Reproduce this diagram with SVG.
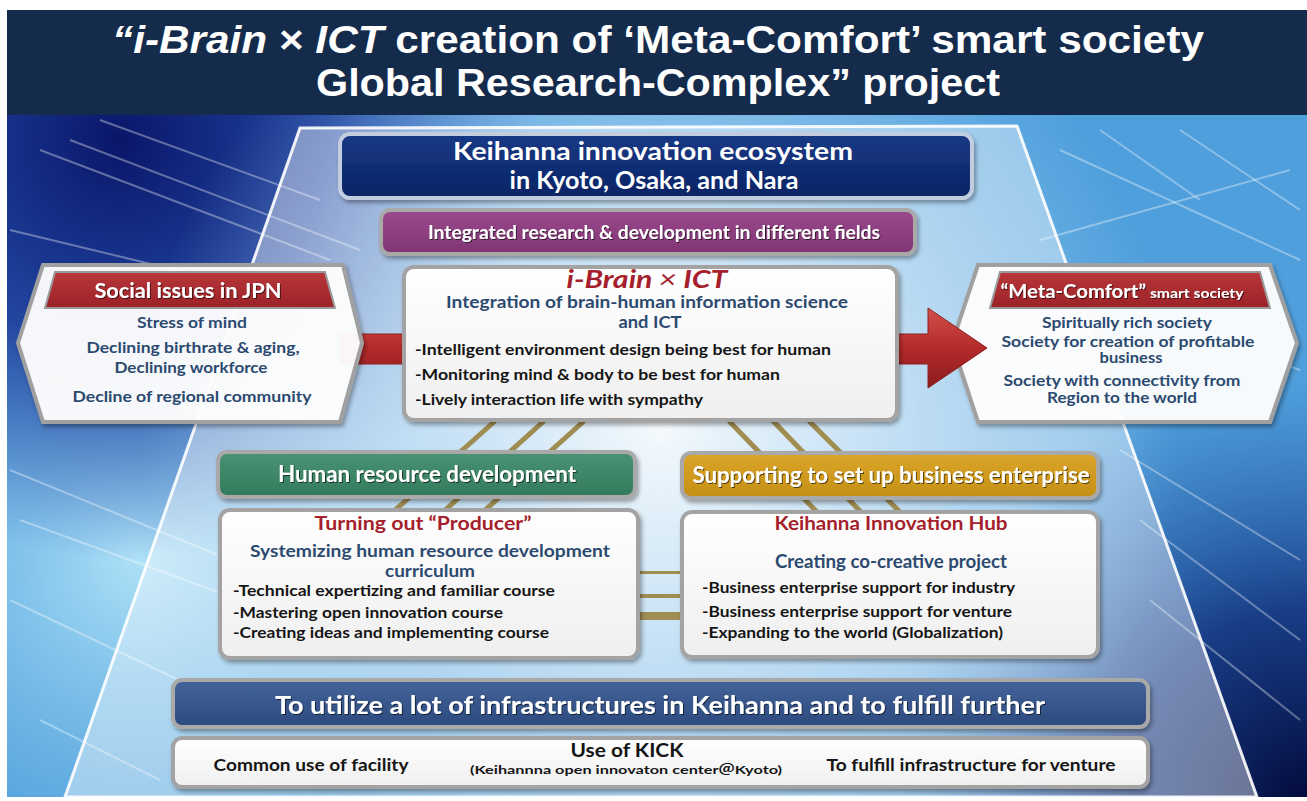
<svg xmlns="http://www.w3.org/2000/svg" width="1307" height="801" viewBox="0 0 1307 801">
<defs>
<style>
.t{font-family:Lato,"Liberation Sans","Noto Sans CJK JP",sans-serif;font-weight:700}
.ttl{font-family:"Liberation Sans",Arial,sans-serif;font-weight:700;fill:#fff}
.m{text-anchor:middle}
.w{fill:#fff}
.sl{fill:#2c4a70}
.rd{fill:#a51f2c}
.bk{fill:#151515}
.wbox{fill:url(#gWhite);stroke:#a3a3a3;stroke-width:4}
.gold{stroke:#a08d52;stroke-width:5;fill:none}
.bgl{stroke:#ffffff;fill:none}
</style>
<radialGradient id="gDarkTL" cx="120" cy="140" r="420" gradientUnits="userSpaceOnUse">
<stop offset="0" stop-color="#0a1668" stop-opacity="1"/>
<stop offset="0.5" stop-color="#10268a" stop-opacity="0.75"/>
<stop offset="1" stop-color="#1a3aa0" stop-opacity="0"/>
</radialGradient>
<radialGradient id="gCyanL" cx="140" cy="560" r="330" gradientUnits="userSpaceOnUse">
<stop offset="0" stop-color="#b4e4f8" stop-opacity="0.95"/>
<stop offset="1" stop-color="#8ccdf0" stop-opacity="0"/>
</radialGradient>
<radialGradient id="gDarkBR" cx="1307" cy="800" r="420" gradientUnits="userSpaceOnUse">
<stop offset="0" stop-color="#030a3a" stop-opacity="1"/>
<stop offset="0.45" stop-color="#0a2470" stop-opacity="0.8"/>
<stop offset="1" stop-color="#1a4a9a" stop-opacity="0"/>
</radialGradient>
<radialGradient id="gGlow" cx="660" cy="430" r="520" gradientUnits="userSpaceOnUse">
<stop offset="0" stop-color="#ffffff" stop-opacity="0.9"/>
<stop offset="0.45" stop-color="#e6f4ff" stop-opacity="0.5"/>
<stop offset="1" stop-color="#bfe3ff" stop-opacity="0"/>
</radialGradient>
<linearGradient id="gWhite" x1="0" y1="0" x2="0" y2="1">
<stop offset="0" stop-color="#ffffff"/>
<stop offset="1" stop-color="#efefef"/>
</linearGradient>
<linearGradient id="gNavy" x1="0" y1="0" x2="0" y2="1">
<stop offset="0" stop-color="#173a86"/>
<stop offset="1" stop-color="#0b2466"/>
</linearGradient>
<linearGradient id="gPurple" x1="0" y1="0" x2="0" y2="1">
<stop offset="0" stop-color="#9a4a8c"/>
<stop offset="1" stop-color="#803574"/>
</linearGradient>
<linearGradient id="gGreen" x1="0" y1="0" x2="0" y2="1">
<stop offset="0" stop-color="#4a9374"/>
<stop offset="1" stop-color="#337a5c"/>
</linearGradient>
<linearGradient id="gGold" x1="0" y1="0" x2="0" y2="1">
<stop offset="0" stop-color="#dba62a"/>
<stop offset="1" stop-color="#c48f14"/>
</linearGradient>
<linearGradient id="gSteel" x1="0" y1="0" x2="0" y2="1">
<stop offset="0" stop-color="#44649a"/>
<stop offset="1" stop-color="#2c4a7e"/>
</linearGradient>
<linearGradient id="gRed" x1="0" y1="0" x2="0" y2="1">
<stop offset="0" stop-color="#b8373a"/>
<stop offset="1" stop-color="#9b2228"/>
</linearGradient>
<linearGradient id="gArrow" x1="0" y1="0" x2="0" y2="1">
<stop offset="0" stop-color="#d2524a"/>
<stop offset="0.5" stop-color="#b42a2a"/>
<stop offset="1" stop-color="#8a1c1e"/>
</linearGradient>
<filter id="sh" x="-5%" y="-10%" width="110%" height="130%">
<feDropShadow dx="2" dy="3" stdDeviation="2" flood-color="#000" flood-opacity="0.35"/>
</filter>
<filter id="tsh" x="-5%" y="-20%" width="110%" height="150%">
<feDropShadow dx="1" dy="1" stdDeviation="0.6" flood-color="#000" flood-opacity="0.6"/>
</filter>
</defs>

<rect x="0" y="0" width="1307" height="801" fill="#ffffff"/>

<g id="background">
<rect x="7" y="115" width="1300" height="682" fill="#4f9fdc"/>
<rect x="7" y="115" width="1300" height="682" fill="url(#gCyanL)"/>
<rect x="7" y="115" width="1300" height="682" fill="url(#gDarkTL)"/>
<rect x="7" y="115" width="1300" height="682" fill="url(#gDarkBR)"/>
<rect x="7" y="115" width="1300" height="682" fill="url(#gGlow)"/>
<g class="bgl" stroke-opacity="0.35" stroke-width="2">
<path d="M40 150 L330 260"/><path d="M70 140 L360 250"/><path d="M10 230 L300 300"/>
<path d="M100 120 L320 200"/><path d="M20 330 L300 420"/><path d="M10 470 L230 560"/>
<path d="M10 600 L200 690"/><path d="M20 520 L240 600"/><path d="M40 720 L160 780"/>
<path d="M1060 150 L1300 260"/><path d="M1040 240 L1290 170"/><path d="M1080 290 L1300 370"/>
<path d="M1120 450 L1300 560"/><path d="M1140 520 L1300 640"/><path d="M1150 600 L1300 720"/>
<path d="M1100 130 L1200 200"/><path d="M1180 130 L1300 210"/>
</g>
<polygon points="300,128 1017,126 1257,797 65,797" fill="#ffffff" fill-opacity="0.4" stroke="#ffffff" stroke-opacity="0.9" stroke-width="3"/>
</g>

<g id="title">
<rect x="7" y="10" width="1300" height="105" fill="#142b4b"/>
<text class="ttl m" x="658" y="53" font-size="38" textLength="1092" lengthAdjust="spacingAndGlyphs"><tspan font-style="italic">“i-Brain</tspan> × <tspan font-style="italic">ICT</tspan> creation of ‘Meta-Comfort’ smart society</text>
<text class="ttl m" x="658" y="96" font-size="38" textLength="684" lengthAdjust="spacingAndGlyphs">Global Research-Complex” project</text>
</g>

<g id="node-meta-comfort">
<polygon points="978,265 1270,265 1297,343 1270,422 978,422 952,343" fill="#ffffff" fill-opacity="0.95" stroke="#a0a0a0" stroke-width="4" filter="url(#sh)"/>
<polygon points="1000,272 1260,272 1270,308 990,308" fill="url(#gRed)" stroke="#9a9a9a" stroke-width="2"/>
<text class="t w m" x="1122" y="298" textLength="243" lengthAdjust="spacingAndGlyphs" filter="url(#tsh)"><tspan font-size="18">“Meta-Comfort”</tspan><tspan font-size="14"> smart society</tspan></text>
<text class="t sl m" x="1127" y="328" font-size="15" textLength="170" lengthAdjust="spacingAndGlyphs">Spiritually rich society</text>
<text class="t sl m" x="1128" y="347" font-size="15" textLength="253" lengthAdjust="spacingAndGlyphs">Society for creation of  profitable</text>
<text class="t sl m" x="1131" y="363" font-size="15" textLength="63" lengthAdjust="spacingAndGlyphs">business</text>
<text class="t sl m" x="1122" y="386" font-size="15" textLength="237" lengthAdjust="spacingAndGlyphs">Society with connectivity from</text>
<text class="t sl m" x="1122" y="403" font-size="15" textLength="150" lengthAdjust="spacingAndGlyphs">Region to the world</text>
</g>

<g id="connectors">
<g class="gold">
<path d="M495 421 L393 512"/>
<path d="M544 421 L443 512"/>
<path d="M584 421 L483 512"/>
<path d="M729 421 L817 512"/>
<path d="M773 421 L861 512"/>
<path d="M809 421 L900 512"/>
</g>
<rect x="636" y="571" width="48" height="3" fill="#a08d52"/>
<rect x="636" y="594" width="48" height="4" fill="#a08d52"/>
<rect x="636" y="612" width="48" height="8" fill="#a08d52"/>
<path d="M340 334 L928 334 L928 308 L987 348 L928 388 L928 364 L340 364 Z" fill="url(#gArrow)" stroke="#8a2020" stroke-width="1"/>
</g>

<g id="node-social-issues">
<polygon points="43,265 343,265 362,343 340,422 43,422 18,343" fill="#ffffff" fill-opacity="0.95" stroke="#a0a0a0" stroke-width="4" filter="url(#sh)"/>
<polygon points="55,272 325,272 335,308 45,308" fill="url(#gRed)" stroke="#9a9a9a" stroke-width="2"/>
<text class="t w m" x="188" y="298" font-size="21" textLength="187" lengthAdjust="spacingAndGlyphs" filter="url(#tsh)">Social issues in JPN</text>
<text class="t sl m" x="192" y="328" font-size="16" textLength="110" lengthAdjust="spacingAndGlyphs">Stress of mind</text>
<text class="t sl m" x="193" y="353" font-size="16" textLength="213" lengthAdjust="spacingAndGlyphs">Declining birthrate &amp; aging,</text>
<text class="t sl m" x="191" y="373" font-size="16" textLength="153" lengthAdjust="spacingAndGlyphs">Declining workforce</text>
<text class="t sl m" x="192" y="402" font-size="16" textLength="239" lengthAdjust="spacingAndGlyphs">Decline of regional community</text>
</g>

<g id="node-keihanna-ecosystem">
<rect x="340" y="134" width="632" height="64" rx="10" fill="url(#gNavy)" stroke="#c3cde0" stroke-width="4" filter="url(#sh)"/>
<text class="t w m" x="653" y="160" font-size="25" textLength="400" lengthAdjust="spacingAndGlyphs">Keihanna innovation ecosystem</text>
<text class="t w m" x="654" y="189" font-size="24" textLength="289" lengthAdjust="spacingAndGlyphs">in Kyoto, Osaka, and Nara</text>
</g>

<g id="node-integrated-rd">
<rect x="381" y="210" width="534" height="44" rx="9" fill="url(#gPurple)" stroke="#a9a9a9" stroke-width="4" filter="url(#sh)"/>
<text class="t w m" x="654" y="239" font-size="18" textLength="452" lengthAdjust="spacingAndGlyphs" filter="url(#tsh)">Integrated research &amp; development in different fields</text>
</g>

<g id="node-ibrain-ict">
<rect x="404" y="267" width="493" height="153" rx="10" class="wbox" filter="url(#sh)"/>
<text class="t rd m" x="647" y="288" font-size="25" font-style="italic" textLength="161" lengthAdjust="spacingAndGlyphs">i-Brain <tspan font-weight="400">×</tspan> ICT</text>
<text class="t sl m" x="647" y="308" font-size="17" textLength="402" lengthAdjust="spacingAndGlyphs">Integration of brain-human information science</text>
<text class="t sl m" x="650" y="328" font-size="17" textLength="63" lengthAdjust="spacingAndGlyphs">and ICT</text>
<text class="t bk" x="415" y="355" font-size="16" textLength="416" lengthAdjust="spacingAndGlyphs">-Intelligent environment design being best for human</text>
<text class="t bk" x="415" y="380" font-size="16" textLength="365" lengthAdjust="spacingAndGlyphs">-Monitoring mind &amp; body to be best for human</text>
<text class="t bk" x="415" y="405" font-size="16" textLength="288" lengthAdjust="spacingAndGlyphs">-Lively interaction life with sympathy</text>
</g>

<g id="node-human-resource">
<rect x="218" y="452" width="417" height="45" rx="9" fill="url(#gGreen)" stroke="#a9a9a9" stroke-width="4" filter="url(#sh)"/>
<text class="t w m" x="427" y="482" font-size="22" textLength="298" lengthAdjust="spacingAndGlyphs" filter="url(#tsh)">Human resource development</text>
</g>

<g id="node-producer">
<rect x="220" y="510" width="418" height="148" rx="10" class="wbox" filter="url(#sh)"/>
<text class="t rd m" x="423" y="530" font-size="19" textLength="217" lengthAdjust="spacingAndGlyphs">Turning out “Producer”</text>
<text class="t sl m" x="430" y="557" font-size="17" textLength="360" lengthAdjust="spacingAndGlyphs">Systemizing human resource development</text>
<text class="t sl m" x="430" y="577" font-size="17" textLength="90" lengthAdjust="spacingAndGlyphs">curriculum</text>
<text class="t bk" x="233" y="596" font-size="15" textLength="322" lengthAdjust="spacingAndGlyphs">-Technical expertizing  and familiar  course</text>
<text class="t bk" x="233" y="618" font-size="15" textLength="270" lengthAdjust="spacingAndGlyphs">-Mastering open innovation course</text>
<text class="t bk" x="233" y="638" font-size="15" textLength="316" lengthAdjust="spacingAndGlyphs">-Creating ideas and implementing  course</text>
</g>

<g id="node-business-support">
<rect x="682" y="453" width="416" height="45" rx="9" fill="url(#gGold)" stroke="#a9a9a9" stroke-width="4" filter="url(#sh)"/>
<text class="t w m" x="891" y="483" font-size="22" textLength="397" lengthAdjust="spacingAndGlyphs" filter="url(#tsh)">Supporting to set up business enterprise</text>
</g>

<g id="node-innovation-hub">
<rect x="682" y="512" width="416" height="145" rx="10" class="wbox" filter="url(#sh)"/>
<text class="t rd m" x="891" y="530" font-size="19" textLength="233" lengthAdjust="spacingAndGlyphs">Keihanna Innovation Hub</text>
<text class="t sl m" x="891" y="568" font-size="18" textLength="232" lengthAdjust="spacingAndGlyphs">Creating co-creative project</text>
<text class="t bk" x="702" y="593" font-size="15" textLength="313" lengthAdjust="spacingAndGlyphs">-Business enterprise  support for industry</text>
<text class="t bk" x="702" y="617" font-size="15" textLength="310" lengthAdjust="spacingAndGlyphs">-Business enterprise  support for venture</text>
<text class="t bk" x="702" y="638" font-size="15" textLength="301" lengthAdjust="spacingAndGlyphs">-Expanding to the world (Globalization)</text>
</g>

<g id="node-infrastructure">
<rect x="173" y="680" width="975" height="47" rx="9" fill="url(#gSteel)" stroke="#a9a9a9" stroke-width="4" filter="url(#sh)"/>
<text class="t w m" x="660" y="714" font-size="24" textLength="770" lengthAdjust="spacingAndGlyphs" filter="url(#tsh)">To utilize a lot of infrastructures in Keihanna and to fulfill further</text>
</g>

<g id="node-facilities">
<rect x="173" y="738" width="975" height="49" rx="9" class="wbox" filter="url(#sh)"/>
<text class="t bk m" x="311" y="771" font-size="17" textLength="195" lengthAdjust="spacingAndGlyphs">Common use of facility</text>
<text class="t bk m" x="627" y="757" font-size="18" textLength="113" lengthAdjust="spacingAndGlyphs">Use of KICK</text>
<text class="t bk m" x="626" y="774" font-size="12" textLength="312" lengthAdjust="spacingAndGlyphs">(Keihannna open innovaton center＠Kyoto)</text>
<text class="t bk m" x="971" y="771" font-size="17" textLength="289" lengthAdjust="spacingAndGlyphs">To fulfill infrastructure for venture</text>
</g>
</svg>
